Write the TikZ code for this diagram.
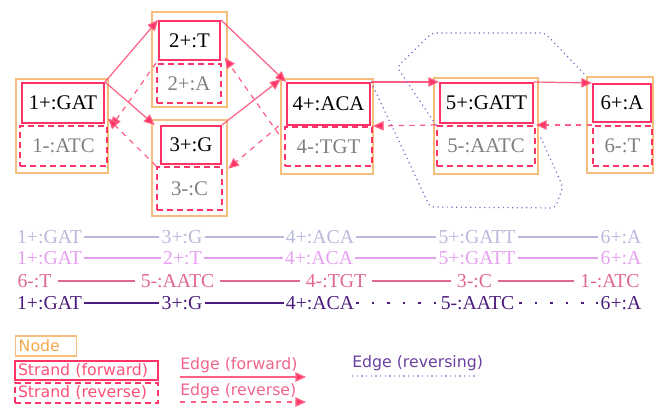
\documentclass[tikz,border=0pt]{standalone}
\usepackage{fontspec}
\setmainfont{Liberation Serif}
\newfontfamily\legendfont{DejaVu Sans}
\usetikzlibrary{arrows.meta}
\definecolor{nodeorange}{RGB}{246,190,125}
\definecolor{nodetext}{RGB}{245,168,74}
\definecolor{strandpink}{RGB}{255,51,102}
\definecolor{edgepink}{RGB}{255,95,130}
\definecolor{revgray}{RGB}{128,128,128}
\definecolor{revpurple}{RGB}{125,105,200}
\definecolor{legpink}{RGB}{255,80,120}
\definecolor{legedge}{RGB}{240,100,140}
\definecolor{legpurple}{RGB}{107,63,160}
\definecolor{rowA}{RGB}{185,185,220}
\definecolor{rowB}{RGB}{230,160,240}
\definecolor{rowC}{RGB}{225,105,143}
\definecolor{rowD}{RGB}{75,28,125}
\begin{document}
\begin{tikzpicture}[x=0.75pt,y=-0.75pt,
  gfont/.style={font=\fontsize{15.6}{17}\selectfont},
  rfont/.style={font=\fontsize{14.8}{16}\selectfont},
  outerbox/.style={draw=nodeorange, line width=1.1pt, inner sep=0pt},
  fwdbox/.style={draw=strandpink, line width=1.5pt, inner sep=0pt, gfont, text=black},
  revbox/.style={draw=strandpink, line width=1.5pt, dash pattern=on 4.5pt off 3pt, inner sep=0pt, gfont, text=revgray},
  fedge/.style={draw=edgepink, line width=0.9pt, -{Triangle[length=8pt,width=7pt,fill=strandpink]}},
  redge/.style={fedge, dash pattern=on 4pt off 4pt},
  vedge/.style={draw=revpurple, line width=0.9pt, dash pattern=on 0.9pt off 2.6pt, rounded corners=3pt},
  rowtext/.style={rfont, inner sep=1.5pt},
  rowline/.style={line width=1.7pt},
  legtext/.style={font=\legendfont\fontsize{11.8}{13}\selectfont, inner sep=0pt, anchor=west},
  legbox/.style={font=\legendfont\fontsize{11.8}{13}\selectfont, anchor=west, inner xsep=2.25pt, inner ysep=0pt, align=left}
]
\useasboundingbox (0,0) rectangle (654,407);

% graph nodes
\node[outerbox, minimum width=69pt, minimum height=70.5pt] (n1) at (62,126) {};
\node[fwdbox, minimum width=61.5pt, minimum height=30pt] (f1) at (63,103) {1+:GAT};
\node[revbox, minimum width=65.25pt, minimum height=30pt] (r1) at (63.5,146) {1-:ATC};

\node[outerbox, minimum width=56.25pt, minimum height=71.25pt] (n2) at (189.5,59.5) {};
\node[fwdbox, minimum width=45.75pt, minimum height=29.25pt] (f2) at (189.5,40.5) {2+:T};
\node[revbox, minimum width=48pt, minimum height=29.25pt] (r2) at (189,83.5) {2+:A};

\node[outerbox, minimum width=56.25pt, minimum height=72pt] (n3) at (189.5,168) {};
\node[fwdbox, minimum width=45pt, minimum height=28.5pt] (f3) at (191,145) {3+:G};
\node[revbox, minimum width=48.75pt, minimum height=32.25pt] (r3) at (189.5,188.5) {3-:C};

\node[outerbox, minimum width=69pt, minimum height=71.25pt] (n4) at (327,126.5) {};
\node[fwdbox, minimum width=62.25pt, minimum height=31.5pt] (f4) at (328.5,104) {4+:ACA};
\node[revbox, minimum width=65.25pt, minimum height=29.25pt] (r4) at (328.5,146.5) {4-:TGT};

\node[outerbox, minimum width=78pt, minimum height=72pt] (n5) at (486,126) {};
\node[fwdbox, minimum width=69.75pt, minimum height=30pt] (f5) at (486.5,103) {5+:GATT};
\node[revbox, minimum width=73.5pt, minimum height=30pt] (r5) at (486,146) {5-:AATC};

\node[outerbox, minimum width=49.5pt, minimum height=72pt] (n6) at (620,125) {};
\node[fwdbox, minimum width=43.5pt, minimum height=28.5pt] (f6) at (622,103) {6+:A};
\node[revbox, minimum width=44.25pt, minimum height=30pt] (r6) at (622.5,146) {6-:T};

% forward edges
\draw[fedge] (f1.north east) -- (f2.north west);
\draw[fedge] (f1.north east) -- ([xshift=-4]f3.north west);
\draw[fedge] (f2.north east) -- (f4.north west);
\draw[fedge] (f3.north east) -- ([xshift=-4,yshift=2]f4.north west);
\draw[fedge] (f4.north east) -- (f5.north west);
\draw[fedge] (f5.north east) -- (f6.north west);

% reverse edges
\draw[redge] (r2.north west) -- ([xshift=2,yshift=-2]r1.north east);
\draw[redge] (r3.north west) -- ([yshift=5]r1.north east);
\draw[redge] ([xshift=-4,yshift=-6]r4.north west) -- ([xshift=2,yshift=4]r2.north east);
\draw[redge] ([xshift=-4]r4.north west) -- ([xshift=4,yshift=-2]r3.north east);
\draw[redge] (r5.north west) -- (r4.north east);
\draw[redge] (r6.north west) -- (r5.north east);

% reversing edges
\coordinate (a5) at (540,136);
\draw[vedge] (f4.north east) -- (430,207) -- (555,208) -- (563,187) -- (a5);
\draw[vedge] (r5.north west) -- (397,67) -- (432,33) -- (545,33) -- (n6.north west);

% paths
\begin{scope}[every node/.style={rowtext, text=rowA}]
\node (p1a) at (49.5,237) {1+:GAT};
\node (p1b) at (182,237) {3+:G};
\node (p1c) at (320,237) {4+:ACA};
\node (p1d) at (477,237) {5+:GATT};
\node (p1e) at (621,237) {6+:A};
\end{scope}
\draw[rowline, rowA] (p1a) -- (p1b) (p1b) -- (p1c) (p1c) -- (p1d) (p1d) -- (p1e);

\begin{scope}[every node/.style={rowtext, text=rowB}]
\node (p2a) at (49.5,258) {1+:GAT};
\node (p2b) at (182.5,258) {2+:T};
\node (p2c) at (319,258) {4+:ACA};
\node (p2d) at (477,258) {5+:GATT};
\node (p2e) at (621,258) {6+:A};
\end{scope}
\draw[rowline, rowB] (p2a) -- (p2b) (p2b) -- (p2c) (p2c) -- (p2d) (p2d) -- (p2e);

\begin{scope}[every node/.style={rowtext, text=rowC, inner xsep=4.5pt}]
\node (p3a) at (34.5,281) {6-:T};
\node (p3b) at (177.5,281) {5-:AATC};
\node (p3c) at (336,281) {4-:TGT};
\node (p3d) at (474.5,281) {3-:C};
\node (p3e) at (610,281) {1-:ATC};
\end{scope}
\draw[rowline, rowC] (p3a) -- (p3b) (p3b) -- (p3c) (p3c) -- (p3d) (p3d) -- (p3e);

\begin{scope}[every node/.style={rowtext, text=rowD}]
\node (p4a) at (49.5,303) {1+:GAT};
\node (p4b) at (182,303) {3+:G};
\node (p4c) at (320,303) {4+:ACA};
\node (p4d) at (477.5,303) {5-:AATC};
\node (p4e) at (621,303) {6+:A};
\end{scope}
\draw[rowline, rowD] (p4a) -- (p4b) (p4b) -- (p4c);
\draw[rowline, rowD, line width=2pt, dash pattern=on 2pt off 9.6pt, shorten <=2pt] (p4c) -- (p4d) (p4d) -- (p4e);

% legend
\node[legbox, draw=nodeorange, line width=1.1pt, text=nodetext, text width=41.25pt, minimum height=15pt] (lnode) at (15,346) {Node};
\node[legbox, draw=strandpink, line width=1.5pt, text=legpink, text width=102.75pt, minimum height=14.25pt] (lfwd) at (14,370.5) {Strand (forward)};
\node[legbox, draw=strandpink, line width=1.5pt, dash pattern=on 4.5pt off 3pt, text=legpink, text width=102.75pt, minimum height=15pt] (lrev) at (14,393) {Strand (reverse)};

\node[legtext, text=legedge] (tef) at (180,365) {Edge (forward)};
\coordinate (ef1) at (180,377);
\coordinate (ef2) at (306,377);
\draw[fedge, line width=1.1pt] (ef1) -- (ef2);

\node[legtext, text=legedge] (ter) at (180,391) {Edge (reverse)};
\coordinate (er1) at (180,402);
\coordinate (er2) at (306,402);
\draw[redge, line width=1.1pt] (er1) -- (er2);

\node[legtext, text=legpurple] (tev) at (352,363) {Edge (reversing)};
\coordinate (ev1) at (352,376);
\coordinate (ev2) at (478,376);
\draw[vedge, draw=revpurple!60] (ev1) -- (ev2);
\end{tikzpicture}
\end{document}
